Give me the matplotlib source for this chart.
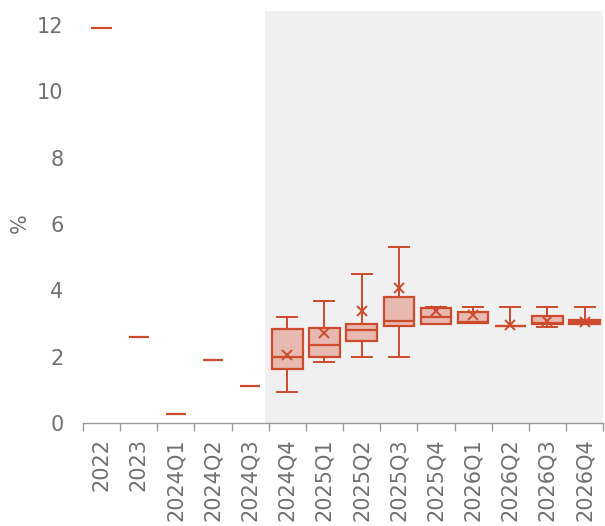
import matplotlib
matplotlib.use("Agg")
import matplotlib.pyplot as plt
import numpy as np

# Category labels along the x axis
periods = ["2022", "2023", "2024Q1", "2024Q2", "2024Q3", "2024Q4", "2025Q1",
           "2025Q2", "2025Q3", "2025Q4", "2026Q1", "2026Q2", "2026Q3", "2026Q4"]

# Outturn values (single marks)
actual_periods = ["2022", "2023", "2024Q1", "2024Q2", "2024Q3"]
actual_values = [11.9, 2.6, 0.27, 1.91, 1.12]

# Forecast distribution per period
forecast_periods = ["2024Q4", "2025Q1", "2025Q2", "2025Q3", "2025Q4",
                    "2026Q1", "2026Q2", "2026Q3", "2026Q4"]
whisker_low = [0.94, 1.85, 2.00, 2.00, 2.98, 3.00, 2.93, 2.89, 2.98]
q1 = [1.63, 1.99, 2.48, 2.93, 2.98, 3.00, 2.93, 2.98, 2.98]
median = [2.00, 2.35, 2.80, 3.07, 3.19, 3.03, 2.93, 3.00, 3.03]
q3 = [2.83, 2.85, 2.98, 3.79, 3.48, 3.33, 2.93, 3.23, 3.10]
whisker_high = [3.19, 3.69, 4.49, 5.30, 3.51, 3.51, 3.51, 3.51, 3.51]
mean = [2.05, 2.70, 3.38, 4.06, 3.36, 3.26, 2.95, 3.08, 3.05]

RED = "#cc4b2d"
FILL = "#e8b9b0"
GREY = "#707070"
SHADE = "#f0f0f0"

fig = plt.figure(figsize=(6.05, 5.26), dpi=100)
ax = fig.add_axes([0.137, 0.196, 0.86, 0.783])

pos = {p: i for i, p in enumerate(periods)}

# Shaded forecast area
ax.axvspan(pos[forecast_periods[0]] - 0.6, len(periods) - 0.5, color=SHADE, zorder=0, lw=0)

# Outturn marks
xa = np.array([pos[p] for p in actual_periods])
ax.hlines(actual_values, xa - 0.27, xa + 0.27, color=RED, lw=1.6, zorder=3)

# Forecast boxes
stats = []
for i in range(len(forecast_periods)):
    stats.append(dict(whislo=whisker_low[i], q1=q1[i], med=median[i],
                      q3=q3[i], whishi=whisker_high[i], mean=mean[i], fliers=[]))
xf = [pos[p] for p in forecast_periods]
ax.bxp(stats, positions=xf, widths=0.82, showmeans=True, patch_artist=True,
       showfliers=False, manage_ticks=False,
       boxprops=dict(facecolor=FILL, edgecolor=RED, lw=1.6),
       medianprops=dict(color=RED, lw=1.6),
       whiskerprops=dict(color=RED, lw=1.4),
       capprops=dict(color=RED, lw=1.4),
       capwidths=0.54,
       meanprops=dict(marker="x", markeredgecolor=RED, markersize=7.5, markeredgewidth=1.4),
       zorder=3)

ax.set_xlim(-0.5, len(periods) - 0.5)
ax.set_ylim(0, 12.42)
ax.set_yticks([0, 2, 4, 6, 8, 10, 12])
ax.set_xticks(np.arange(len(periods)))
ax.set_xticklabels(periods, rotation=90)
ax.set_xticks(np.arange(len(periods) + 1) - 0.5, minor=True)

ax.tick_params(axis="y", length=0, pad=14, labelsize=15, labelcolor=GREY)
ax.tick_params(axis="x", which="major", length=0, pad=11, labelsize=15, labelcolor=GREY)
ax.tick_params(axis="x", which="minor", length=6, width=1, color="#999999")

for s in ["top", "right", "left"]:
    ax.spines[s].set_visible(False)
ax.spines["bottom"].set_color("#999999")
ax.spines["bottom"].set_linewidth(1)

ax.set_ylabel("%", fontsize=15, color=GREY)
ax.yaxis.set_label_coords(-0.102, 0.485)
ax.set_facecolor("white")

fig.savefig("out.png", dpi=100)
